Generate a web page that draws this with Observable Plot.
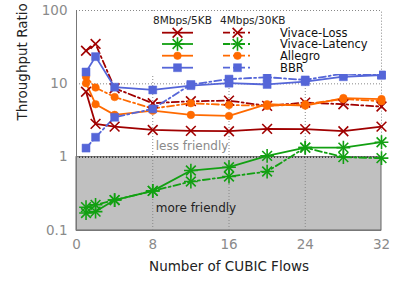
<!DOCTYPE html>
<html><head><meta charset="utf-8">
<script src="https://cdn.jsdelivr.net/npm/d3@7"></script>
<script src="https://cdn.jsdelivr.net/npm/@observablehq/plot@0.6"></script>
<style>
body{margin:0;background:#fff}
#chart{position:relative;width:393px;height:283px;font-family:"DejaVu Sans",sans-serif}
#chart svg{position:absolute;left:0;top:0}
</style>
</head><body><div id="chart"></div>
<script>
// ---- data ----
const flows = [1, 2, 4, 8, 12, 16, 20, 24, 28, 32];
const vivaceLoss8 = [7.8, 2.84, 2.61, 2.35, 2.28, 2.26, 2.43, 2.41, 2.26, 2.61];
const vivaceLoss4 = [28.3, 35, 8.7, 5.44, 5.8, 5.9, 5.0, 5.55, 5.27, 4.9];
const vivaceLat8 = [0.173, 0.181, 0.26, 0.347, 0.657, 0.73, 1.04, 1.35, 1.35, 1.6];
const vivaceLat4 = [0.208, 0.224, 0.26, 0.347, 0.465, 0.544, 0.637, 1.35, 1.0, 0.97];
const allegro8 = [10.2, 5.27, 3.77, 4.3, 3.77, 3.65, 5.27, 5.05, 6.4, 6.2];
const allegro4 = [12.5, 8.9, 6.6, 4.6, 5.44, 5.15, 5.0, 5.27, 6.2, 5.8];
const bbr8 = [14.5, 23.5, 9.0, 8.25, 9.45, 10.2, 9.8, 10.7, 12.5, 13.2];
const bbr4 = [1.33, 1.87, 3.5, 4.55, 9.8, 11.6, 12.3, 11.3, 13.8, 13.1];
const seriesNames = ["Vivace-Loss", "Vivace-Latency", "Allegro", "BBR"];
const configNames = ["8Mbps/5KB", "4Mbps/30KB"];
const xTicks = [0, 8, 16, 24, 32];
const yTicks = [0.1, 1, 10, 100];
const xLabel = "Number of CUBIC Flows";
const yLabel = "Throughput Ratio";
const regionLabels = ["less friendly", "more friendly"];

// ---- styling ----
const colors = ["#a00000", "#12a012", "#ff6a00", "#5566d8"];
const symbolSets = [["times"], ["plus", "times"], ["circle"], ["square"]];
const dash = "7,3,2,3";
const values = [[vivaceLoss8, vivaceLoss4], [vivaceLat8, vivaceLat4], [allegro8, allegro4], [bbr8, bbr4]];

const marks = [
  Plot.rect([{x1: 0, x2: 32, y1: 0.1, y2: 1}], {x1: "x1", x2: "x2", y1: "y1", y2: "y2", fill: "#c0c0c0", stroke: "#666", strokeWidth: 1}),
  Plot.gridX([8, 16, 24], {stroke: "#888", strokeOpacity: 1, strokeDasharray: "1,2"}),
  Plot.ruleY([10], {stroke: "#888", strokeDasharray: "1,2"}),
  Plot.ruleY([100], {stroke: "#888", strokeDasharray: "1,2"}),
  Plot.ruleX([32], {y1: 1, y2: 100, stroke: "#888", strokeDasharray: "1,2"}),
  Plot.ruleY([1], {stroke: "#000", strokeDasharray: "1,2"}),
  Plot.ruleX([0], {stroke: "#777"}),
  Plot.ruleY([0.1], {stroke: "#777"}),
  Plot.axisX(xTicks, {tickSize: 0, tickPadding: 9, fontSize: 13.5, color: "#8a8a8a", label: null}),
  Plot.axisY(yTicks, {tickSize: 0, tickPadding: 9, fontSize: 13.5, color: "#8a8a8a", tickFormat: d => d === 0.1 ? "0.1" : String(d), label: null}),
  Plot.text([xLabel], {frameAnchor: "bottom", dy: 40, text: d => d, fontSize: 13.5, fill: "#222"}),
  Plot.text([yLabel], {frameAnchor: "left", dx: -54, rotate: -90, text: d => d, fontSize: 13.5, fill: "#222"}),
  Plot.text([regionLabels[0]], {x: 8, y: 1.42, dx: 3, text: d => d, textAnchor: "start", fill: "#8a8a8a", fontSize: 12}),
  Plot.text([regionLabels[1]], {x: 8, y: 0.2, dx: 3, text: d => d, textAnchor: "start", fill: "#222", fontSize: 12})
];

values.forEach((pair, si) => {
  pair.forEach((arr, ci) => {
    const rows = arr.map((v, i) => ({x: flows[i], y: v}));
    marks.push(Plot.line(rows, {x: "x", y: "y", stroke: colors[si], strokeWidth: 1.8, strokeDasharray: ci === 1 ? dash : null}));
  });
});
values.forEach((pair, si) => {
  pair.forEach((arr, ci) => {
    const rows = arr.map((v, i) => ({x: flows[i], y: v}));
    symbolSets[si].forEach(sym => {
      const filled = sym === "circle" || sym === "square";
      marks.push(Plot.dot(rows, {x: "x", y: "y", symbol: () => sym, r: sym === "circle" ? 3.8 : 4.5,
        fill: filled ? colors[si] : "none", stroke: colors[si], strokeWidth: filled ? 0.5 : 1.6}));
    });
  });
});

const chart = Plot.plot({
  width: 393, height: 283,
  marginLeft: 76, marginRight: 12, marginTop: 10, marginBottom: 53,
  style: {fontFamily: "DejaVu Sans, sans-serif", background: "transparent"},
  x: {domain: [0, 32]},
  y: {type: "log", domain: [0.1, 100]},
  symbol: {type: "identity"},
  marks
});
document.getElementById("chart").appendChild(chart);

// ---- legend overlay ----
const leg = d3.select("#chart").append("svg").attr("width", 393).attr("height", 283)
  .style("font-family", "DejaVu Sans, sans-serif");
leg.append("rect").attr("x", 151).attr("y", 12).attr("width", 228).attr("height", 62).attr("fill", "#fff");
const headerX = [153, 220];
configNames.forEach((n, i) => leg.append("text").attr("x", headerX[i]).attr("y", 20).attr("dy", "0.35em")
  .attr("font-size", 10.5).attr("fill", "#222").text(n));
const rowY = [32.7, 44, 55.7, 67.7];
const samples = [[162, 193], [223, 252]];
const symMap = {times: d3.symbolTimes, plus: d3.symbolPlus, circle: d3.symbolCircle, square: d3.symbolSquare};
seriesNames.forEach((name, si) => {
  const y = rowY[si];
  samples.forEach(([a, b], ci) => {
    leg.append("line").attr("x1", a).attr("x2", b).attr("y1", y).attr("y2", y)
      .attr("stroke", colors[si]).attr("stroke-width", 1.8).attr("stroke-dasharray", ci === 1 ? dash : null);
    symbolSets[si].forEach(sym => {
      const filled = sym === "circle" || sym === "square";
      const r = sym === "circle" ? 3.8 : 4.5;
      leg.append("path").attr("transform", `translate(${(a + b) / 2},${y})`)
        .attr("d", d3.symbol(symMap[sym], Math.PI * r * r)())
        .attr("fill", filled ? colors[si] : "none").attr("stroke", colors[si]).attr("stroke-width", filled ? 0.5 : 1.6);
    });
  });
  leg.append("text").attr("x", 280).attr("y", y).attr("dy", "0.35em").attr("font-size", 11.5).attr("fill", "#111").text(name);
});
</script>
</body></html>
